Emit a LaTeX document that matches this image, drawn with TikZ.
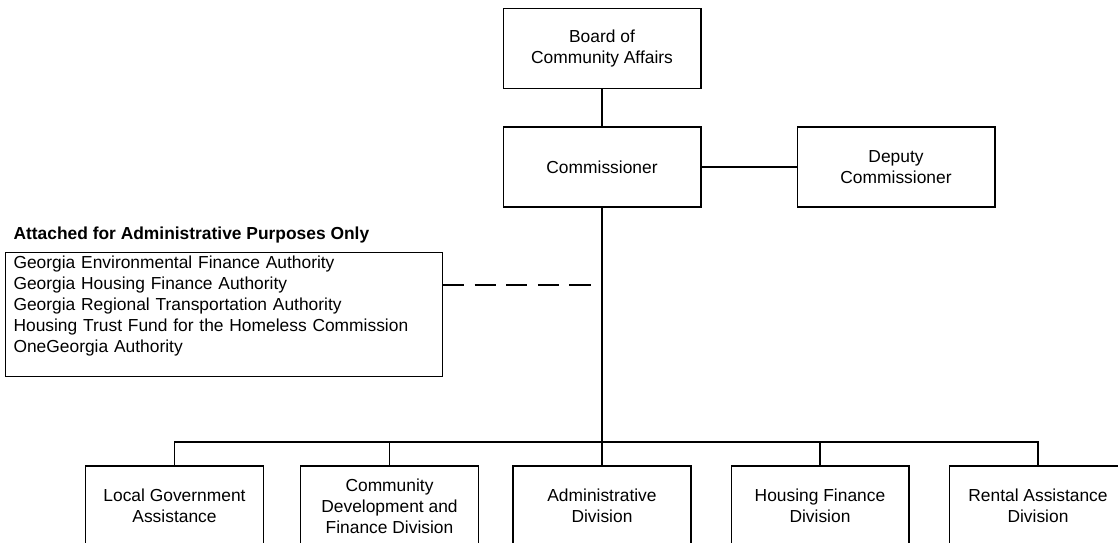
\documentclass[tikz,border=0pt]{standalone}
\usepackage{fontspec}
\setmainfont{Liberation Sans}
\tikzset{every node/.style={font=\fontsize{9.9pt}{11.9pt}\selectfont, inner sep=0pt},
  office/.style={draw, align=center, minimum width=3.96cm, minimum height=1.6cm},
  division/.style={office, minimum width=3.56cm},
  attachbox/.style={draw, align=left, text width=8.42cm, inner xsep=0.16cm, inner ysep=0.07cm, anchor=north west},
  adminlink/.style={dash pattern=on 12pt off 6pt}}

\begin{document}
\begin{tikzpicture}[x=0.02cm, y=-0.02cm, line width=0.6pt]
   \useasboundingbox (0,0) rectangle (1118,543);
   \clip (0,0) rectangle (1118,543);
    \node[office] (board)  at (602, 48.5) {Board of\\Community Affairs};
    \node[office] (comm)   at (602,167) {Commissioner};
    \node[office] (deputy) at (896,167) {Deputy\\Commissioner};
    \node[anchor=west, font=\fontsize{9.9pt}{11.9pt}\selectfont\bfseries] (title) at (13,235) {Attached for Administrative Purposes Only};
    \node[attachbox] (attached) at (5,252) {Georgia Environmental Finance Authority\\
     Georgia Housing Finance Authority\\
     Georgia Regional Transportation Authority\\
     Housing Trust Fund for the Homeless Commission\\
     OneGeorgia Authority\\ \mbox{}};
    \node[division] (lga)     at (174.5,506) {Local Government\\Assistance};
    \node[division] (cdfd)    at (389.5,506) {Community\\Development and\\Finance Division};
    \node[division] (admin)   at (602,506) {Administrative\\Division};
    \node[division] (housing) at (820,506) {Housing Finance\\Division};
    \node[division] (rental)  at (1038,506) {Rental Assistance\\Division};
    \coordinate (bus) at (602,442);
    \coordinate (dashend) at (591,285);
    \draw (board) -- (comm);
    \draw (comm) -- (deputy);
    \draw[line width=1.2pt] (comm.south) -- (bus);
    \draw (lga.north) |- (bus);
    \draw (cdfd.north) |- (bus);
    \draw (admin.north) -- (bus);
    \draw (housing.north) |- (bus);
    \draw (rental.north) |- (bus);
    \draw[adminlink] (attached.east |- dashend) -- (dashend);
  \end{tikzpicture}
\end{document}
